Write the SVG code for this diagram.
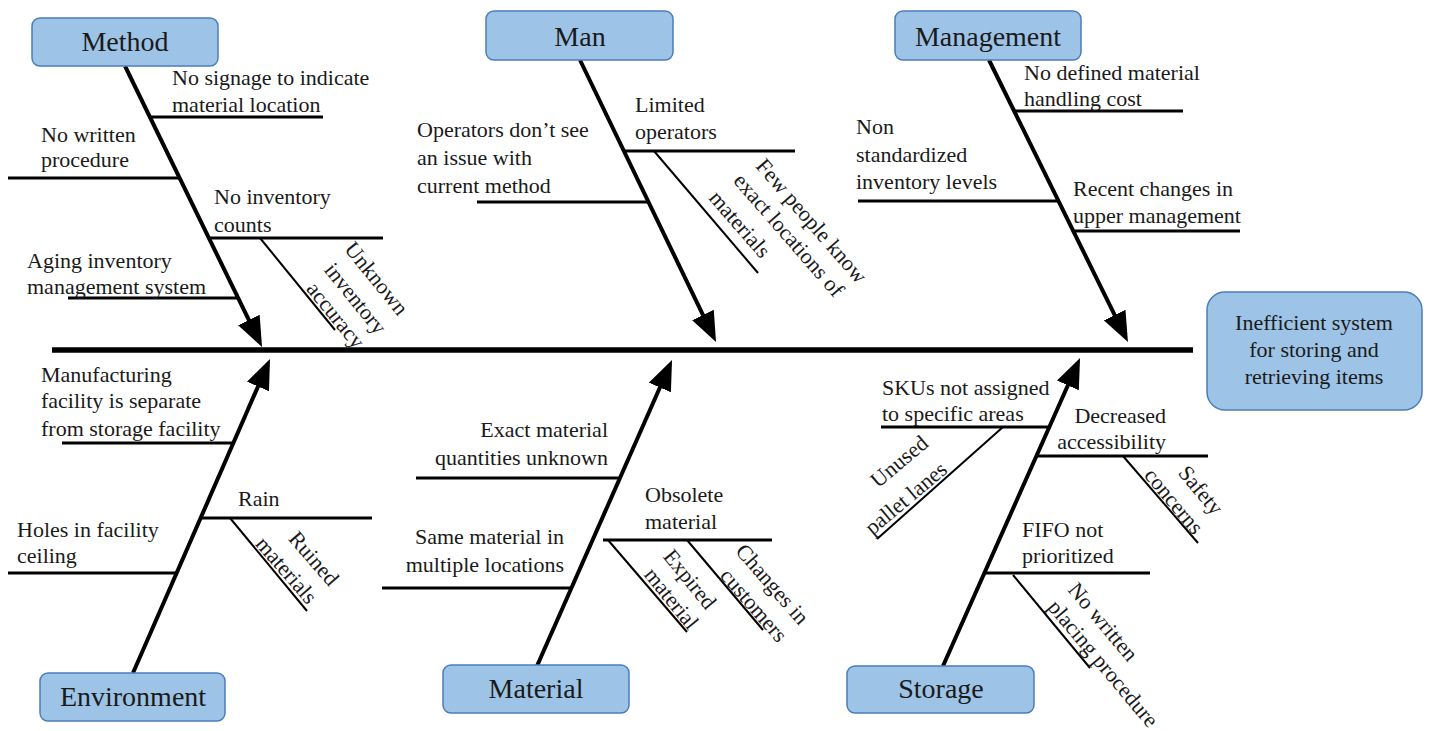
<svg xmlns="http://www.w3.org/2000/svg" width="1429" height="731" viewBox="0 0 1429 731">
<style>
  text { font-family: "Liberation Serif", "Times New Roman", serif; fill: #1a1a1a; }
  .lbl { font-size: 22px; }
  .end { text-anchor: end; }
  .rot { font-size: 22px; text-anchor: middle; dominant-baseline: central; }
  .ttl { font-size: 28px; text-anchor: middle; }
  .box { fill: #9DC3E6; stroke: #4A7EBB; stroke-width: 1.5; }
  .spine { stroke: #000; stroke-width: 5.5; fill: none; }
  .bone { stroke: #000; stroke-width: 4; fill: none; marker-end: url(#ah); }
  .br { stroke: #000; stroke-width: 3; fill: none; }
  .sub { stroke: #000; stroke-width: 2; fill: none; }
</style>
<defs>
  <marker id="ah" viewBox="0 0 10 8" refX="8" refY="4" markerWidth="30" markerHeight="24" markerUnits="userSpaceOnUse" orient="auto">
    <path d="M0,0 L10,4 L0,8 z" fill="#000"/>
  </marker>
</defs>
<rect width="1429" height="731" fill="#fff"/>

<g id="connectors">
  <line class="spine" x1="52" y1="350" x2="1193" y2="350"/>
  <line class="bone" x1="125" y1="66" x2="259.4" y2="341.6"/>
  <line class="bone" x1="580" y1="60" x2="713.4" y2="336.6"/>
  <line class="bone" x1="989" y1="60" x2="1125.3" y2="336.6"/>
  <line class="bone" x1="133" y1="673" x2="267.6" y2="364.5"/>
  <line class="bone" x1="537" y1="666" x2="669.6" y2="365.5"/>
  <line class="bone" x1="943" y1="666" x2="1077.6" y2="363.5"/>
  <!-- Method branches -->
  <line class="br" x1="150" y1="117" x2="323" y2="117"/>
  <line class="br" x1="8" y1="178" x2="179" y2="178"/>
  <line class="br" x1="209" y1="238" x2="383" y2="238"/>
  <line class="sub" x1="260" y1="238" x2="335" y2="330"/>
  <line class="br" x1="68" y1="298" x2="238" y2="298"/>
  <!-- Man branches -->
  <line class="br" x1="624" y1="151" x2="795" y2="151"/>
  <line class="sub" x1="654" y1="151" x2="758" y2="273"/>
  <line class="br" x1="477" y1="202" x2="648" y2="202"/>
  <!-- Management branches -->
  <line class="br" x1="1014" y1="111" x2="1183" y2="111"/>
  <line class="br" x1="858" y1="201" x2="1058" y2="201"/>
  <line class="br" x1="1073" y1="231" x2="1240" y2="231"/>
  <!-- Environment branches -->
  <line class="br" x1="62" y1="443" x2="233" y2="443"/>
  <line class="br" x1="201" y1="518" x2="372" y2="518"/>
  <line class="sub" x1="230" y1="518" x2="307" y2="611"/>
  <line class="br" x1="8" y1="573" x2="177" y2="573"/>
  <!-- Material branches -->
  <line class="br" x1="416" y1="478" x2="620" y2="478"/>
  <line class="br" x1="382" y1="588" x2="571" y2="588"/>
  <line class="br" x1="603" y1="540" x2="772" y2="540"/>
  <line class="sub" x1="608" y1="540" x2="687" y2="632"/>
  <line class="sub" x1="687" y1="540" x2="763" y2="630"/>
  <!-- Storage branches -->
  <line class="br" x1="881" y1="427" x2="1049" y2="427"/>
  <line class="sub" x1="1003" y1="427" x2="877" y2="539"/>
  <line class="br" x1="1036" y1="456" x2="1208" y2="456"/>
  <line class="sub" x1="1123" y1="456" x2="1198" y2="543"/>
  <line class="br" x1="984" y1="573" x2="1150" y2="573"/>
  <line class="sub" x1="1013" y1="575" x2="1090" y2="668"/>
</g>

<g id="node-effect">
  <rect class="box" x="1207" y="292" width="215" height="118" rx="18"/>
  <text class="lbl" x="1314" y="330" text-anchor="middle">Inefficient system</text>
  <text class="lbl" x="1314" y="357" text-anchor="middle">for storing and</text>
  <text class="lbl" x="1314" y="384" text-anchor="middle">retrieving items</text>
</g>

<g id="node-method">
  <rect class="box" x="32" y="18" width="186" height="48" rx="8"/>
  <text class="ttl" x="125" y="51">Method</text>
</g>
<g id="causes-method">
  <text class="lbl" x="172" y="85">No signage to indicate</text>
  <text class="lbl" x="172" y="112">material location</text>
  <text class="lbl" x="41" y="142">No written</text>
  <text class="lbl" x="41" y="167">procedure</text>
  <text class="lbl" x="214" y="204">No inventory</text>
  <text class="lbl" x="214" y="232">counts</text>
  <text class="rot" transform="translate(376.7,278.3) rotate(51)">Unknown</text>
  <text class="rot" transform="translate(355.7,298.3) rotate(51)">inventory</text>
  <text class="rot" transform="translate(335.8,315) rotate(51)">accuracy</text>
  <text class="lbl" x="27" y="268">Aging inventory</text>
  <text class="lbl" x="27" y="294">management system</text>
</g>

<g id="node-man">
  <rect class="box" x="486" y="11" width="187" height="49" rx="8"/>
  <text class="ttl" x="580" y="46">Man</text>
</g>
<g id="causes-man">
  <text class="lbl" x="635" y="112">Limited</text>
  <text class="lbl" x="635" y="139">operators</text>
  <text class="rot" transform="translate(811.7,220.7) rotate(49)">Few people know</text>
  <text class="rot" transform="translate(789,235) rotate(49)">exact locations of</text>
  <text class="rot" transform="translate(740,224) rotate(49)">materials</text>
  <text class="lbl" x="417" y="137">Operators don’t see</text>
  <text class="lbl" x="417" y="165">an issue with</text>
  <text class="lbl" x="417" y="193">current method</text>
</g>

<g id="node-management">
  <rect class="box" x="895" y="11" width="186" height="49" rx="8"/>
  <text class="ttl" x="988" y="46">Management</text>
</g>
<g id="causes-management">
  <text class="lbl" x="1024" y="80">No defined material</text>
  <text class="lbl" x="1024" y="106">handling cost</text>
  <text class="lbl" x="856" y="134">Non</text>
  <text class="lbl" x="856" y="162">standardized</text>
  <text class="lbl" x="856" y="189">inventory levels</text>
  <text class="lbl" x="1073" y="196">Recent changes in</text>
  <text class="lbl" x="1073" y="223">upper management</text>
</g>

<g id="node-environment">
  <rect class="box" x="40" y="673" width="185" height="48" rx="8"/>
  <text class="ttl" x="133" y="706">Environment</text>
</g>
<g id="causes-environment">
  <text class="lbl" x="41" y="382">Manufacturing</text>
  <text class="lbl" x="41" y="408">facility is separate</text>
  <text class="lbl" x="41" y="436">from storage facility</text>
  <text class="lbl" x="238" y="506">Rain</text>
  <text class="rot" transform="translate(314,558.3) rotate(49)">Ruined</text>
  <text class="rot" transform="translate(286.7,570) rotate(49)">materials</text>
  <text class="lbl" x="17" y="537">Holes in facility</text>
  <text class="lbl" x="17" y="563">ceiling</text>
</g>

<g id="node-material">
  <rect class="box" x="443" y="665" width="186" height="48" rx="8"/>
  <text class="ttl" x="536" y="698">Material</text>
</g>
<g id="causes-material">
  <text class="lbl end" x="608" y="437">Exact material</text>
  <text class="lbl end" x="608" y="465">quantities unknown</text>
  <text class="lbl end" x="564" y="544">Same material in</text>
  <text class="lbl end" x="564" y="572">multiple locations</text>
  <text class="lbl" x="645" y="502">Obsolete</text>
  <text class="lbl" x="645" y="529">material</text>
  <text class="rot" transform="translate(690,579) rotate(51)">Expired</text>
  <text class="rot" transform="translate(671.7,598.3) rotate(51)">material</text>
  <text class="rot" transform="translate(772.5,584) rotate(49)">Changes in</text>
  <text class="rot" transform="translate(754,605) rotate(49)">customers</text>
</g>

<g id="node-storage">
  <rect class="box" x="847" y="666" width="187" height="47" rx="8"/>
  <text class="ttl" x="941" y="698">Storage</text>
</g>
<g id="causes-storage">
  <text class="lbl" x="882" y="395">SKUs not assigned</text>
  <text class="lbl" x="882" y="421">to specific areas</text>
  <text class="rot" transform="translate(899,461.3) rotate(-40)">Unused</text>
  <text class="rot" transform="translate(905.7,498) rotate(-40)">pallet lanes</text>
  <text class="lbl end" x="1166" y="423">Decreased</text>
  <text class="lbl end" x="1166" y="449">accessibility</text>
  <text class="rot" transform="translate(1201,490) rotate(50)">Safety</text>
  <text class="rot" transform="translate(1174,501) rotate(50)">concerns</text>
  <text class="lbl" x="1022" y="537">FIFO not</text>
  <text class="lbl" x="1022" y="563">prioritized</text>
  <text class="rot" transform="translate(1103.3,621.7) rotate(50)">No written</text>
  <text class="rot" transform="translate(1103.3,663.3) rotate(50)">placing procedure</text>
</g>
</svg>
